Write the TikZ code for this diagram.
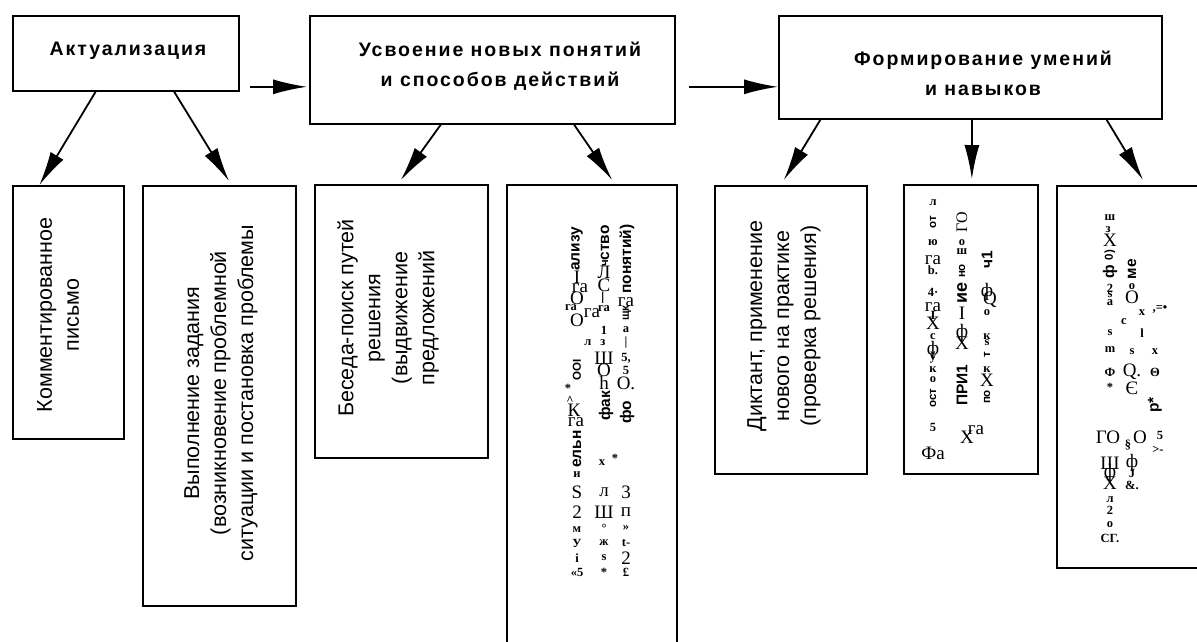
\documentclass[tikz,border=0pt]{standalone}
\usepackage{fontspec}
\setmainfont{Liberation Sans}
\newfontfamily\hdf{Liberation Sans}[LetterSpace=10]
\newfontfamily\gser{Liberation Serif}
\usetikzlibrary{arrows.meta,calc}
\begin{document}
\begin{tikzpicture}[x=1pt,y=-1pt,
  box/.style={draw,line width=1.8pt,anchor=north west,inner sep=0,minimum width=#1},
  hd/.style={font=\hdf\bfseries\fontsize{19.5}{30}\selectfont,align=center,inner sep=0},
  vt/.style={rotate=90,align=center,font=\fontsize{21.5}{27}\selectfont,inner sep=0},
  arr/.style={line width=1.8pt,-{Latex[length=34pt,width=15pt]}},
  gB/.style={font=\gser\fontsize{19}{19}\selectfont,inner sep=0},
  gS/.style={font=\gser\bfseries\fontsize{12.5}{12.5}\selectfont,inner sep=0},
  gR/.style={font=\bfseries\fontsize{15.5}{15.5}\selectfont,rotate=90,inner sep=0},
  gr/.style={font=\bfseries\fontsize{11.5}{11.5}\selectfont,rotate=90,inner sep=0},
  gRs/.style={font=\gser\fontsize{16}{16}\selectfont,rotate=90,inner sep=0}]
\clip (0,0) rectangle (1197,641);
% top boxes
\node[box=226pt,minimum height=75pt] (A) at (12,15) {};
\node[box=365pt,minimum height=108pt] (B) at (309,15) {};
\node[box=383pt,minimum height=103pt] (C) at (778,15) {};
\node[hd] (tA) at (128,51) {Актуализация};
\node[hd] (tB) at (500,66) {Усвоение новых понятий\\и способов действий};
\node[hd] (tC) at (983,73) {Формирование умений\\и навыков};
% bottom boxes
\node[box=111pt,minimum height=253pt] (k1) at (12,185) {};
\node[box=153pt,minimum height=420pt] (k2) at (142,185) {};
\node[box=173pt,minimum height=273pt] (k3) at (314,184) {};
\node[box=170pt,minimum height=480pt] (k4) at (506,184) {};
\node[box=152pt,minimum height=288pt] (k5) at (714,185) {};
\node[box=134pt,minimum height=289pt] (k6) at (903,184) {};
\node[box=160pt,minimum height=382pt] (k7) at (1056,185) {};
\node[vt] (t1) at (58,315) {Комментированное\\письмо};
\node[vt] (t2) at (221,393) {Выполнение задания\\(возникновение проблемной\\ситуации и постановка проблемы};
\node[vt] (t3) at (388,318) {Беседа-поиск путей\\решения\\(выдвижение\\предложений};
\node[vt] (t5) at (784,326) {Диктант, применение\\нового на практике\\(проверка решения)};
% arrows
\draw[arr] ($(A.south east)+(10,-5)$) -- ($(B.west |- A.south)+(-2,-5)$);
\draw[arr] ($(B.east |- A.south)+(13,-5)$) -- ($(C.west |- A.south)+(0,-5)$);
\draw[arr] ($(A.south west)!0.367!(A.south east)$) -- ($(k1.north west)!0.243!(k1.north east)$);
\draw[arr] ($(A.south west)!0.712!(A.south east)$) -- ($(k2.north west)!0.562!(k2.north east)+(0,-4)$);
\draw[arr] ($(B.south west)!0.359!(B.south east)$) -- ($(k3.north west)!0.497!(k3.north east)+(0,-4)$);
\draw[arr] ($(B.south west)!0.723!(B.south east)$) -- ($(k4.north west)!0.618!(k4.north east)+(0,-4)$);
\draw[arr] ($(C.south west)!0.11!(C.south east)$) -- ($(k5.north west)!0.454!(k5.north east)+(0,-5)$);
\draw[arr] ($(C.south west)!0.504!(C.south east)$) -- ($(k6.north west)!0.507!(k6.north east)+(0,-5)$);
\draw[arr] ($(C.south west)!0.854!(C.south east)$) -- ($(k7.north west)!0.538!(k7.north east)+(0,-5)$);
% garbled text, box 4
\foreach \x/\y/\t [count=\i] in {577/277/I,580/288/га,577/298/O,577/320/O,574/410/К,576/422/га,577/492/S,577/512/2,
  604/272/Л,604/285/С,592/313/га,604/358/Ш,604/370/О,604/383/h,604/492/л,604/512/Ш,
  626/302/га,626/383/О.,626/492/3,626/512/п,626/558/2}
  \node[gB] (gb4-\i) at (\x,\y) {\t};
\foreach \x/\y/\t [count=\i] in {571/308/га,568/388/*,570/400/\textasciicircum,577/475/и,577/530/м,577/543/У,577/558/i,577/572/«5,
  604/309/га,604/330/1,588/343/л,603/343/з,602/463/x,615/458/*,604/528/°,604/543/ж,604/558/s,604/572/*,
  626/330/а,626/343/|,626/358/{5,},626/370/5,626/528/»,626/543/t-,626/572/£}
  \node[gS] (gs4-\i) at (\x,\y) {\t};
\foreach \x/\y/\t [count=\i] in {577/249/ализу,605/243/ство,627/259/понятий),577/449/ельн,606/406/фак,627/412/фо}
  \node[gR] (gr4-\i) at (\x,\y) {\t};
\foreach \x/\y/\t [count=\i] in {605/263/ч,577/370/ООI,627/313/щк,604/298/—}
  \node[gr] (gq4-\i) at (\x,\y) {\t};
% garbled text, box 6
\foreach \x/\y/\t [count=\i] in {933/260/га,933/307/га,933/323/X,933/350/ф,962/313/I,962/333/ф,962/343/X,967/437/X,976/430/га,
  987/292/ф,990/300/Q,987/380/X,933/453/Фа}
  \node[gB] (gb6-\i) at (\x,\y) {\t};
\foreach \x/\y/\t [count=\i] in {933/203/л,933/243/ю,933/270/b.,933/292/4·,933/315/I,933/337/с,933/358/ў,933/370/к,933/380/о,933/427/5,
  962/243/о,962/252/ш,987/313/о,987/337/к,987/343/s,987/370/к}
  \node[gS] (gs6-\i) at (\x,\y) {\t};
\node[gR,font=\bfseries\fontsize{18}{18}\selectfont] (gr6-1) at (962,293) {ие};
\node[gR] (gr6-2) at (962,385) {ПРИ1};
\node[gR] (gr6-3) at (987,260) {ч1};
\node[gRs] (gr6-4) at (962,222) {ГО};
\foreach \x/\y/\t [count=\i] in {933/222/от,962/271/но,933/398/ост,987/355/т,987/397/по}
  \node[gr] (gq6-\i) at (\x,\y) {\t};
% garbled text, box 7
\foreach \x/\y/\t [count=\i] in {1110/240/X,1132/297/O,1108/437/ГО,1140/437/O,1110/463/Ш,1110/473/ф,1110/483/Х,1132/463/ф,1132/388/Є,1132/372/Q.}
  \node[gB] (gb7-\i) at (\x,\y) {\t};
\foreach \x/\y/\t [count=\i] in {1110/218/ш,1108/230/з,1110/288/2,1110/295/s,1110/303/a,1110/333/s,1110/350/m,1110/372/Ф,1110/387/*,
  1110/500/л,1110/510/2,1110/525/о,1110/538/СГ.,1132/287/о,1142/313/x,1124/322/c,1142/333/l,1132/352/s,1128/445/§,1132/473/J,
  1132/485/\&.,1160/310/{,=•},1155/352/x,1155/372/Θ,1160/435/5,1158/450/>-}
  \node[gS] (gs7-\i) at (\x,\y) {\t};
\foreach \x/\y/\t [count=\i] in {1110/272/ф,1132/269/ме,1155/405/p*}
  \node[gR] (gr7-\i) at (\x,\y) {\t};
\node[gr] (gq7-1) at (1110,255) {0)};
\end{tikzpicture}
\end{document}
